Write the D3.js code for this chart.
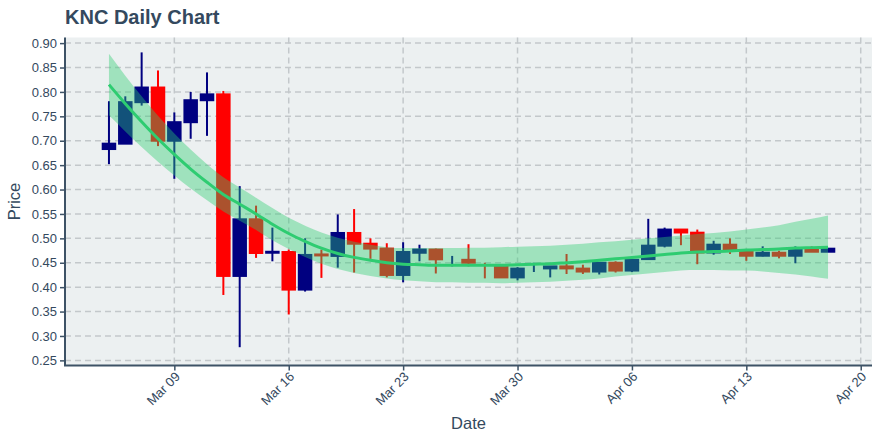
<!DOCTYPE html>
<html>
<head>
<meta charset="utf-8">
<script src="https://cdn.jsdelivr.net/npm/d3@7"></script>
<style>
  html, body { margin: 0; padding: 0; background: #ffffff; }
  svg { display: block; font-family: "Liberation Sans", Arial, sans-serif; }
</style>
</head>
<body>
<svg id="chart" width="880" height="440"></svg>
<script>
// ---------- data ----------
const dates = [
  "2020-03-05","2020-03-06","2020-03-07","2020-03-08","2020-03-09","2020-03-10","2020-03-11",
  "2020-03-12","2020-03-13","2020-03-14","2020-03-15","2020-03-16","2020-03-17","2020-03-18",
  "2020-03-19","2020-03-20","2020-03-21","2020-03-22","2020-03-23","2020-03-24","2020-03-25",
  "2020-03-26","2020-03-27","2020-03-28","2020-03-29","2020-03-30","2020-03-31","2020-04-01",
  "2020-04-02","2020-04-03","2020-04-04","2020-04-05","2020-04-06","2020-04-07","2020-04-08",
  "2020-04-09","2020-04-10","2020-04-11","2020-04-12","2020-04-13","2020-04-14","2020-04-15",
  "2020-04-16","2020-04-17","2020-04-18"
];
const open = [
  0.683,0.694,0.779,0.809,0.700,0.738,0.783,
  0.795,0.423,0.539,0.4705,0.472,0.395,0.467,
  0.464,0.511,0.489,0.479,0.425,0.4705,0.477,
  0.458,0.456,0.447,0.442,0.420,0.440,0.4384,
  0.4425,0.438,0.432,0.450,0.434,0.4575,0.485,
  0.518,0.5116,0.471,0.487,0.4726,0.4644,0.4705,
  0.4644,0.4767,0.4726
];
const high = [
  0.781,0.791,0.881,0.844,0.758,0.800,0.840,
  0.802,0.607,0.567,0.522,0.477,0.500,0.477,
  0.549,0.560,0.500,0.490,0.492,0.487,0.479,
  0.464,0.488,0.450,0.442,0.441,0.450,0.4425,
  0.468,0.446,0.450,0.453,0.456,0.540,0.522,
  0.518,0.518,0.495,0.500,0.473,0.4836,0.4747,
  0.4836,0.4836,0.4788
];
const low = [
  0.652,0.694,0.772,0.689,0.622,0.704,0.710,
  0.384,0.277,0.460,0.453,0.344,0.391,0.419,
  0.440,0.430,0.458,0.420,0.410,0.453,0.428,
  0.4425,0.4425,0.418,0.420,0.414,0.431,0.420,
  0.427,0.427,0.426,0.430,0.431,0.456,0.4815,
  0.486,0.447,0.4665,0.468,0.454,0.463,0.459,
  0.449,0.4726,0.4726
];
const close = [
  0.694,0.779,0.809,0.700,0.738,0.783,0.795,
  0.423,0.539,0.470,0.4725,0.395,0.466,0.465,
  0.511,0.489,0.479,0.425,0.472,0.477,0.457,
  0.458,0.450,0.447,0.420,0.438,0.440,0.4425,
  0.4384,0.432,0.450,0.434,0.456,0.485,0.518,
  0.512,0.471,0.487,0.4747,0.4644,0.4705,0.4644,
  0.4767,0.4726,0.4788
];
const trend = [
  0.815,0.776,0.739,0.704,0.672,0.642,0.615,
  0.590,0.570,0.550,0.529,0.510,0.494,0.480,
  0.469,0.461,0.455,0.450,0.447,0.446,0.445,
  0.445,0.445,0.445,0.445,0.446,0.447,0.448,
  0.450,0.452,0.455,0.458,0.461,0.464,0.467,
  0.470,0.472,0.473,0.474,0.476,0.477,0.478,
  0.480,0.481,0.482
];
const bandUpper = [
  0.878,0.833,0.791,0.751,0.715,0.682,0.652,
  0.625,0.604,0.583,0.562,0.542,0.526,0.512,
  0.501,0.493,0.487,0.482,0.480,0.480,0.480,
  0.480,0.481,0.481,0.482,0.483,0.484,0.485,
  0.487,0.489,0.492,0.494,0.497,0.500,0.503,
  0.506,0.509,0.511,0.514,0.518,0.522,0.527,
  0.534,0.540,0.547
];
const bandLower = [
  0.752,0.719,0.687,0.657,0.629,0.602,0.578,
  0.555,0.536,0.517,0.496,0.478,0.462,0.448,
  0.437,0.429,0.423,0.418,0.414,0.412,0.410,
  0.410,0.409,0.409,0.408,0.409,0.410,0.411,
  0.413,0.415,0.418,0.422,0.425,0.428,0.431,
  0.434,0.435,0.435,0.434,0.434,0.432,0.429,
  0.426,0.422,0.417
];
const yTicks = [0.25,0.30,0.35,0.40,0.45,0.50,0.55,0.60,0.65,0.70,0.75,0.80,0.85,0.90];
const xTickDates = ["2020-03-09","2020-03-16","2020-03-23","2020-03-30","2020-04-06","2020-04-13","2020-04-20"];
const titleText = "KNC Daily Chart";
const xTitle = "Date";
const yTitle = "Price";

// ---------- layout ----------
const parse = d3.utcParse("%Y-%m-%d");
const DAY = 86400000;
const rows = dates.map((d, i) => ({
  date: parse(d), o: open[i], h: high[i], l: low[i], c: close[i],
  t: trend[i], up: bandUpper[i], lo: bandLower[i],
  prevC: i > 0 ? close[i - 1] : open[i]
}));
const L = 65, R = 872, T = 37.5, B = 365.5;
const first = rows[0].date, last = rows[rows.length - 1].date;
const pad = 2.69 * DAY;
const x = d3.scaleUtc().domain([new Date(+first - pad), new Date(+last + pad)]).range([L, R]);
const y = d3.scaleLinear().domain([0.2395, 0.9115]).range([B, T]);

const textColor = "#34495e";
const incColor = "#000080", decColor = "#ff0000";
const svg = d3.select("#chart");

svg.append("rect").attr("x", L).attr("y", T).attr("width", R - L).attr("height", B - T).attr("fill", "#ecf0f1");

// grid
const gridG = svg.append("g");
gridG.selectAll("line.hg").data(yTicks).join("line")
  .attr("x1", L).attr("x2", R).attr("y1", d => y(d)).attr("y2", d => y(d))
  .attr("stroke", "#c3c8cb").attr("stroke-width", 1.5).attr("stroke-dasharray", "6,4");
gridG.selectAll("line.vg").data(xTickDates.map(parse)).join("line")
  .attr("y1", T).attr("y2", B).attr("x1", d => x(d)).attr("x2", d => x(d))
  .attr("stroke", "#c3c8cb").attr("stroke-width", 1.5).attr("stroke-dasharray", "6,4");

// candles
const bodyW = 14.5;
const isUp = r => r.c > r.o || (r.c === r.o && r.c >= r.prevC);
const cg = svg.append("g");
const candle = cg.selectAll("g").data(rows).join("g");
candle.append("line")
  .attr("x1", d => x(d.date)).attr("x2", d => x(d.date))
  .attr("y1", d => y(d.h)).attr("y2", d => y(d.l))
  .attr("stroke", d => isUp(d) ? incColor : decColor).attr("stroke-width", 2);
candle.filter(d => d.o !== d.c).append("rect")
  .attr("x", d => x(d.date) - bodyW / 2 + 1)
  .attr("width", bodyW - 2)
  .attr("y", d => y(Math.max(d.o, d.c)))
  .attr("height", d => Math.abs(y(d.o) - y(d.c)))
  .attr("fill", d => isUp(d) ? incColor : decColor)
  .attr("stroke", d => isUp(d) ? incColor : decColor).attr("stroke-width", 2);

// band + trend
const area = d3.area().x(d => x(d.date)).y0(d => y(d.lo)).y1(d => y(d.up)).curve(d3.curveMonotoneX);
svg.append("path").datum(rows).attr("d", area).attr("fill", "rgba(46,204,113,0.4)");
const line = d3.line().x(d => x(d.date)).y(d => y(d.t)).curve(d3.curveMonotoneX);
svg.append("path").datum(rows).attr("d", line).attr("fill", "none")
  .attr("stroke", "#2ecc71").attr("stroke-width", 3);

// axes
const axisColor = "#3d5266";
const yAxis = svg.append("g").attr("transform", `translate(${L},0)`)
  .call(d3.axisLeft(y).tickValues(yTicks).tickFormat(d3.format(".2f")).tickSize(5).tickPadding(3));
yAxis.select(".domain").attr("stroke", axisColor).attr("stroke-width", 2).attr("d", `M0,${T}V${B}`);
yAxis.selectAll(".tick line").attr("stroke", axisColor).attr("stroke-width", 1.5);
yAxis.selectAll(".tick text").attr("fill", textColor).attr("font-size", 13)
  .attr("font-family", "Liberation Sans, Arial, sans-serif");

const xAxis = svg.append("g").attr("transform", `translate(0,${B})`)
  .call(d3.axisBottom(x).tickValues(xTickDates.map(parse)).tickFormat(d3.utcFormat("%b %d")).tickSize(5));
xAxis.select(".domain").attr("stroke", axisColor).attr("stroke-width", 2).attr("d", `M${L - 1},0H${R}`);
xAxis.selectAll(".tick line").attr("stroke", axisColor).attr("stroke-width", 1.5);
xAxis.selectAll(".tick text").attr("fill", textColor).attr("font-size", 13)
  .attr("font-family", "Liberation Sans, Arial, sans-serif")
  .attr("text-anchor", "end").attr("dy", null).attr("y", null)
  .attr("transform", "translate(6,12) rotate(-45)");

// titles
svg.append("text").attr("x", 65).attr("y", 23.5).text(titleText)
  .attr("fill", textColor).attr("font-size", 20).attr("font-weight", "bold");
svg.append("text").attr("x", (L + R) / 2).attr("y", 429).attr("text-anchor", "middle")
  .text(xTitle).attr("fill", textColor).attr("font-size", 16.5);
svg.append("text").attr("transform", `translate(20,${(T + B) / 2}) rotate(-90)`).attr("text-anchor", "middle")
  .text(yTitle).attr("fill", textColor).attr("font-size", 16.5);
</script>
</body>
</html>
